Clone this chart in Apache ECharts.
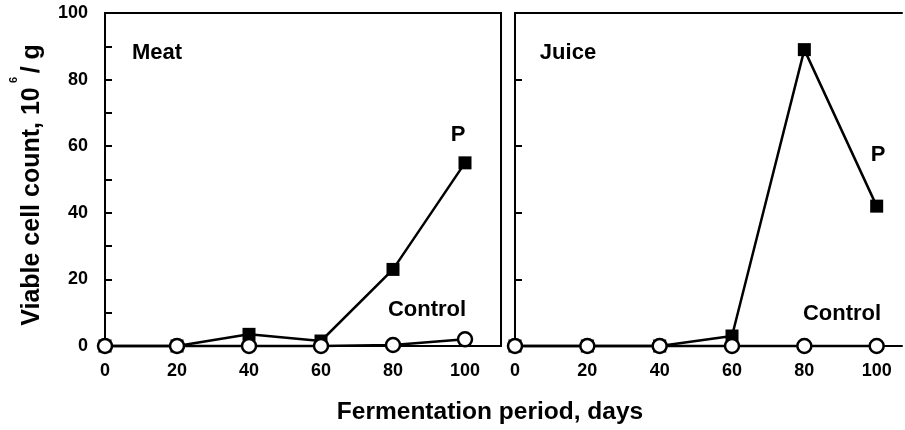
<!DOCTYPE html>
<html>
<head>
<meta charset="utf-8">
<script src="https://cdn.jsdelivr.net/npm/echarts@6/dist/echarts.min.js"></script>
<style>
html,body{margin:0;padding:0;background:#fff;}
#c{width:905px;height:430px;}
</style>
</head>
<body>
<div id="c"></div>
<script>
const days = [0, 20, 40, 60, 80, 100];
const meatP = [0, 0, 3.5, 1.5, 23, 55];
const meatControl = [0, 0, 0, 0, 0.3, 2];
const juiceP = [0, 0, 0, 3, 89, 42];
const juiceControl = [0, 0, 0, 0, 0, 0];
const xTickLabels = [0, 20, 40, 60, 80, 100];
const yTickLabels = [0, 20, 40, 60, 80, 100];

const FONT = '"Liberation Sans", Arial, Helvetica, sans-serif';
const chart = echarts.init(document.getElementById('c'), null, {renderer: 'canvas'});

function pairs(vals) { return days.map((d, i) => [d, vals[i]]); }

const xAxisBase = (gi, max) => ({
  type: 'value', gridIndex: gi, min: 0, max: max, interval: 20,
  axisLine: {show: true, onZero: false, lineStyle: {color: '#000', width: 2}},
  axisTick: {show: false},
  splitLine: {show: false},
  axisLabel: {
    margin: 16, color: '#000', fontSize: 18, fontWeight: 'bold', fontFamily: FONT,
    formatter: v => (xTickLabels.indexOf(v) >= 0 ? String(v) : '')
  }
});

const pStyle = (gi, data) => ({
  type: 'line', xAxisIndex: gi, yAxisIndex: gi, data: data,
  symbol: 'rect', symbolSize: 13, clip: false, z: 2,
  lineStyle: {color: '#000', width: 2.5},
  itemStyle: {color: '#000', borderColor: '#000', borderWidth: 0},
  emphasis: {disabled: true}
});
const cStyle = (gi, data) => ({
  type: 'line', xAxisIndex: gi, yAxisIndex: gi, data: data,
  symbol: 'circle', symbolSize: 14, clip: false, z: 3,
  lineStyle: {color: '#000', width: 2.5},
  itemStyle: {color: '#fff', borderColor: '#000', borderWidth: 2.5},
  emphasis: {disabled: true}
});

const txt = (x, y, t, size, rot) => ({
  type: 'text', x: x, y: y, z: 10, rotation: rot || 0,
  style: {text: t, fill: '#000', font: 'bold ' + size + 'px ' + FONT, align: 'center', verticalAlign: 'middle'}
});

chart.setOption({
  animation: false,
  backgroundColor: '#fff',
  grid: [
    {left: 105, top: 13, width: 396, height: 333, show: true, borderColor: '#000', borderWidth: 2, backgroundColor: 'transparent'},
    {left: 515, top: 13, width: 390, height: 333, show: false}
  ],
  xAxis: [
    xAxisBase(0, 110),
    xAxisBase(1, 107),
    {
      type: 'value', gridIndex: 1, position: 'top', min: 0, max: 107,
      axisLine: {show: true, onZero: false, lineStyle: {color: '#000', width: 2}},
      axisTick: {show: false}, axisLabel: {show: false}, splitLine: {show: false}
    }
  ],
  yAxis: [
    {
      type: 'value', gridIndex: 0, min: 0, max: 100, interval: 10,
      axisLine: {show: true, onZero: false, lineStyle: {color: '#000', width: 2}},
      axisTick: {show: true, inside: true, length: 7, lineStyle: {color: '#000', width: 2}},
      splitLine: {show: false},
      axisLabel: {
        margin: 17, color: '#000', fontSize: 18, fontWeight: 'bold', fontFamily: FONT,
        formatter: v => (yTickLabels.indexOf(v) >= 0 ? String(v) : '')
      }
    },
    {
      type: 'value', gridIndex: 1, min: 0, max: 100, interval: 20,
      axisLine: {show: true, onZero: false, lineStyle: {color: '#000', width: 2}},
      axisTick: {show: true, inside: true, length: 7, lineStyle: {color: '#000', width: 2}},
      splitLine: {show: false},
      axisLabel: {show: false}
    }
  ],
  series: [
    pStyle(0, pairs(meatP)),
    cStyle(0, pairs(meatControl)),
    pStyle(1, pairs(juiceP)),
    cStyle(1, pairs(juiceControl))
  ],
  graphic: [
    txt(157, 53, 'Meat', 22),
    txt(568, 53, 'Juice', 22),
    txt(458, 135, 'P', 22),
    txt(427, 310, 'Control', 22),
    txt(842, 314, 'Control', 22),
    txt(878, 155, 'P', 22),
    txt(490, 412, 'Fermentation period, days', 24.5),
    txt(32, 185, 'Viable cell count, 10  / g', 25, Math.PI / 2),
    txt(14, 80, '6', 11, Math.PI / 2)
  ]
});
</script>
</body>
</html>
